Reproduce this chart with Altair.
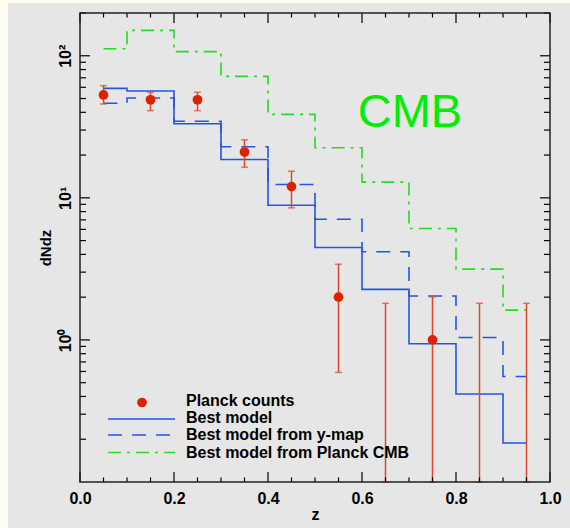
import altair as alt
import pandas as pd

# ---------------- data ----------------
edges = [0.05, 0.1, 0.2, 0.3, 0.4, 0.5, 0.6, 0.7, 0.8, 0.9, 0.95]
best_model = [59.0, 56.5, 33.2, 18.6, 8.86, 4.47, 2.27, 0.94, 0.416, 0.188]
ymap_model = [46.3, 50.5, 34.6, 22.9, 12.4, 7.07, 4.17, 2.04, 1.04, 0.553]
cmb_model = [112, 151, 107, 71.6, 38.7, 22.5, 12.9, 6.08, 3.15, 1.62]

z_centers = [0.05, 0.15, 0.25, 0.35, 0.45, 0.55, 0.65, 0.75, 0.85, 0.95]
counts = [53, 49, 49, 21, 12, 2.0, None, 1.0, None, None]
err_hi = [61.6, 55.3, 55.3, 25.6, 15.4, 3.41, 1.81, 2.01, 1.81, 1.81]
err_lo = [45.8, 41.1, 41.1, 16.4, 8.5, 0.59, 0.1, 0.1, 0.1, 0.1]

x_major = [0.0, 0.2, 0.4, 0.6, 0.8, 1.0]
x_minor = [round(0.05 * i, 2) for i in range(1, 20) if i % 4 != 0]
y_major = [1, 10, 100]
y_minor = [m * d for d in (0.1, 1, 10) for m in range(2, 10)] + [200]

legend_labels = ["Planck counts", "Best model", "Best model from y-map", "Best model from Planck CMB"]

W, H = 470, 469
RED = "#dd2200"
ERR = "#e24430"
BLUE = "#2255e6"
GREEN = "#22dd22"
FONT = "Liberation Sans"

xs = alt.Scale(domain=[0, 1], nice=False, zero=False)
ys = alt.Scale(type="log", domain=[0.1, 200], nice=False)


def step_df(vals):
    return pd.DataFrame({"z": edges, "v": vals + [vals[-1]]})


# background panel
bg = alt.Chart(pd.DataFrame({"a": [0]})).mark_rect(fill="#e6e6e6").encode(
    x=alt.value(-72), x2=alt.value(W + 30), y=alt.value(-10), y2=alt.value(H + 50)
)

X = alt.X(
    "z:Q", scale=xs,
    axis=alt.Axis(values=x_major, format=".1f", ticks=False, domain=False, grid=False,
                  labelFlush=False, labelFont=FONT, labelFontWeight="bold", labelFontSize=16,
                  labelColor="black", labelPadding=8, title="z", titleFont=FONT,
                  titleFontWeight="bold", titleFontSize=16, titleColor="black",
                  titleY=37, titleBaseline="alphabetic", zindex=2),
)
Y = alt.Y(
    "v:Q", scale=ys,
    axis=alt.Axis(values=y_major, ticks=False, domain=False, grid=False, labelFlush=False,
                  labelExpr="datum.value >= 100 ? '10²' : datum.value >= 10 ? '10¹' : '10⁰'",
                  labelAngle=270, labelAlign="center", labelBaseline="bottom", labelPadding=7,
                  labelFont=FONT, labelFontWeight="bold", labelFontSize=16, labelColor="black",
                  title="dNdz", titleFont=FONT, titleFontWeight="bold", titleFontSize=15,
                  titleColor="black", titleAngle=270, titleX=-35, titleY=H / 2,
                  titleAlign="center", titleBaseline="middle", zindex=2),
)

best = alt.Chart(step_df(best_model)).mark_line(
    interpolate="step-after", color=BLUE, strokeWidth=1.6
).encode(x=X, y=Y)
ymap = alt.Chart(step_df(ymap_model)).mark_line(
    interpolate="step-after", color=BLUE, strokeWidth=1.6, strokeDash=[14, 10]
).encode(x="z:Q", y="v:Q")
cmb = alt.Chart(step_df(cmb_model)).mark_line(
    interpolate="step-after", color=GREEN, strokeWidth=1.6, strokeDash=[13, 6, 3, 6]
).encode(x="z:Q", y="v:Q")

pts_df = pd.DataFrame({"z": z_centers, "v": counts, "lo": err_lo, "hi": err_hi})
err = alt.Chart(pts_df).mark_rule(color=ERR, strokeWidth=1.5).encode(
    x="z:Q", y=alt.Y("lo:Q"), y2="hi:Q"
)
caps_df = pd.DataFrame({"z": z_centers * 2, "v": err_lo + err_hi})
caps = alt.Chart(caps_df).mark_tick(
    color=ERR, orient="horizontal", size=7, thickness=1.5
).encode(x="z:Q", y="v:Q")
pts = alt.Chart(pts_df.dropna()).mark_point(
    filled=True, size=95, color=RED, opacity=1
).encode(x="z:Q", y="v:Q")

# inward ticks on all four sides
def xticks(vals, ln):
    d = pd.DataFrame({"z": vals})
    b = alt.Chart(d).mark_rule(color="black", strokeWidth=1.2).encode(
        x="z:Q", y=alt.value(H), y2=alt.value(H - ln))
    t = alt.Chart(d).mark_rule(color="black", strokeWidth=1.2).encode(
        x="z:Q", y=alt.value(0), y2=alt.value(ln))
    return [b, t]


def yticks(vals, ln):
    d = pd.DataFrame({"v": vals})
    l = alt.Chart(d).mark_rule(color="black", strokeWidth=1.2).encode(
        y="v:Q", x=alt.value(0), x2=alt.value(ln))
    r = alt.Chart(d).mark_rule(color="black", strokeWidth=1.2).encode(
        y="v:Q", x=alt.value(W), x2=alt.value(W - ln))
    return [l, r]


tick_layers = xticks(x_major, 10) + xticks(x_minor, 4.5) + yticks(y_major, 10) + yticks(y_minor, 6)

box = alt.Chart(pd.DataFrame({"a": [0]})).mark_rect(
    fillOpacity=0, stroke="#222222", strokeWidth=1.5
).encode(x=alt.value(0), x2=alt.value(W), y=alt.value(0), y2=alt.value(H))

cmb_text = alt.Chart(pd.DataFrame({"t": ["CMB"]})).mark_text(
    font=FONT, fontSize=47, color="#00ee00", align="center", baseline="alphabetic"
).encode(text="t:N", x=alt.value(330), y=alt.value(114))

# legend
leg_pt = alt.Chart(pd.DataFrame({"a": [0]})).mark_point(
    filled=True, size=95, color=RED, opacity=1
).encode(x=alt.value(62), y=alt.value(389.5))
leg_l1 = alt.Chart(pd.DataFrame({"a": [0]})).mark_rule(color=BLUE, strokeWidth=1.6).encode(
    x=alt.value(28), x2=alt.value(95), y=alt.value(406))
leg_l2 = alt.Chart(pd.DataFrame({"a": [0]})).mark_rule(
    color=BLUE, strokeWidth=1.6, strokeDash=[14, 10]).encode(
    x=alt.value(28), x2=alt.value(95), y=alt.value(422))
leg_l3 = alt.Chart(pd.DataFrame({"a": [0]})).mark_rule(
    color=GREEN, strokeWidth=1.6, strokeDash=[13, 6, 3, 6]).encode(
    x=alt.value(28), x2=alt.value(95), y=alt.value(439.5))
leg_txt = [
    alt.Chart(pd.DataFrame({"t": [lab]})).mark_text(
        font=FONT, fontSize=16, fontWeight="bold", color="black", align="left", baseline="middle"
    ).encode(text="t:N", x=alt.value(106), y=alt.value(yy))
    for lab, yy in zip(legend_labels, [387.5, 405, 422, 439.5])
]

chart = alt.layer(
    bg, best, ymap, cmb, err, caps, pts, *tick_layers, box, cmb_text,
    leg_pt, leg_l1, leg_l2, leg_l3, *leg_txt
).properties(
    width=W, height=H,
    autosize=alt.AutoSizeParams(type="none"),
    padding={"left": 80, "top": 13, "right": 20, "bottom": 46},
    background="#fffcf2",
).configure_view(stroke=None)

chart.save("out.html", embed_options={"renderer": "svg", "actions": False})
